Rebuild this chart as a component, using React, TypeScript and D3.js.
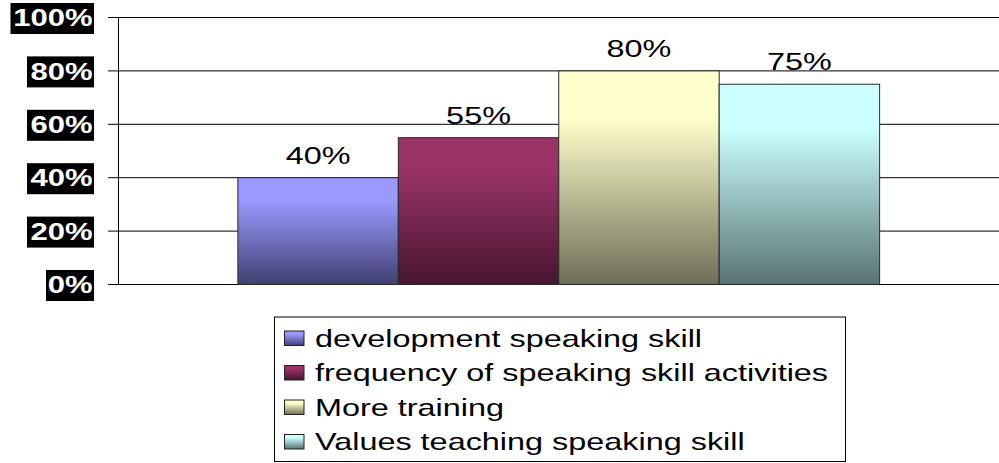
import React from "react";
import * as d3 from "d3";

const seriesNames = [
  "development speaking skill",
  "frequency of speaking skill activities",
  "More training",
  "Values teaching speaking skill",
];
const seriesValues = [0.4, 0.55, 0.8, 0.75];
const valueLabels = ["40%", "55%", "80%", "75%"];
const yTicks = [0, 0.2, 0.4, 0.6, 0.8, 1.0];
const yTickLabels = ["0%", "20%", "40%", "60%", "80%", "100%"];
const topColors = ["#9999ff", "#993366", "#ffffcc", "#ccffff"];
const bottomColors = ["#404070", "#46152f", "#6e6e58", "#587373"];

const W = 999;
const H = 463;
const SX = 1.35;

export default function App() {
  const plotLeft = 118.5;
  const plotRight = 999;
  const plotTop = 17.5;
  const plotBottom = 284.5;
  const y = d3.scaleLinear().domain([0, 1]).range([plotBottom, plotTop]);
  const x0 = d3
    .scaleBand<string>()
    .domain(["g"])
    .range([plotLeft, plotRight])
    .paddingOuter(0.186)
    .paddingInner(0);
  const x1 = d3
    .scaleBand<string>()
    .domain(seriesNames)
    .range([x0("g") as number, (x0("g") as number) + x0.bandwidth()])
    .padding(0);

  const legendX = 274.5;
  const legendY = 317;
  const legendW = 571;
  const legendH = 144.5;
  const rowStep = 34.5;
  const row0 = 338;

  return (
    <svg
      width={W}
      height={H}
      style={{ position: "absolute", left: 0, top: 0, background: "#fff" }}
      fontFamily="'Liberation Sans', Arial, sans-serif"
    >
      <defs>
        {seriesNames.map((s, i) => (
          <linearGradient key={s} id={`g${i}`} x1="0" y1="0" x2="0" y2="1">
            <stop offset="0" stopColor={topColors[i]} />
            <stop offset="0.22" stopColor={topColors[i]} />
            <stop offset="1" stopColor={bottomColors[i]} />
          </linearGradient>
        ))}
      </defs>
      <rect x={0} y={0} width={W} height={H} fill="#fff" />
      {yTicks.map((t, i) => (
        <line
          key={i}
          x1={108}
          x2={plotRight}
          y1={y(t)}
          y2={y(t)}
          stroke="#000"
          strokeWidth={1}
        />
      ))}
      <line x1={plotLeft} x2={plotLeft} y1={plotTop} y2={plotBottom} stroke="#000" />
      {yTicks.map((t, i) => {
        const label = yTickLabels[i];
        const fs = 23;
        const w = label.length === 4 ? 80 : label.length === 3 ? 63.5 : 44.5;
        const right = 94;
        const cy = y(t) + 1;
        return (
          <g key={i}>
            <rect x={right - w - 3.5} y={cy - 15.5} width={w + 3.5} height={31} fill="#000" />
            <text
              transform={`translate(${right - 1.3},${cy + 7.6}) scale(${SX},1)`}
              textAnchor="end"
              fontSize={fs}
              fontWeight="bold"
              fill="#fff"
            >
              {label}
            </text>
          </g>
        );
      })}
      {seriesNames.map((s, i) => {
        const bx = x1(s) as number;
        const by = y(seriesValues[i]);
        return (
          <g key={s}>
            <rect
              x={bx}
              y={by}
              width={x1.bandwidth()}
              height={plotBottom - by}
              fill={`url(#g${i})`}
              stroke="#2a2a2a"
              strokeWidth={1}
            />
            <text
              transform={`translate(${bx + x1.bandwidth() / 2},${by - 14}) scale(${SX},1)`}
              textAnchor="middle"
              fontSize={24}
              fill="#000"
            >
              {valueLabels[i]}
            </text>
          </g>
        );
      })}
      <rect x={legendX} y={legendY} width={legendW} height={legendH} fill="#fff" stroke="#000" />
      {seriesNames.map((s, i) => {
        const cy = row0 + i * rowStep;
        return (
          <g key={s}>
            <rect
              x={284.5}
              y={cy - 7}
              width={19.5}
              height={14.5}
              fill={`url(#g${i})`}
              stroke="#222"
            />
            <text
              transform={`translate(315,${cy + 8.5}) scale(${SX},1)`}
              fontSize={24}
              fill="#000"
            >
              {s}
            </text>
          </g>
        );
      })}
    </svg>
  );
}
